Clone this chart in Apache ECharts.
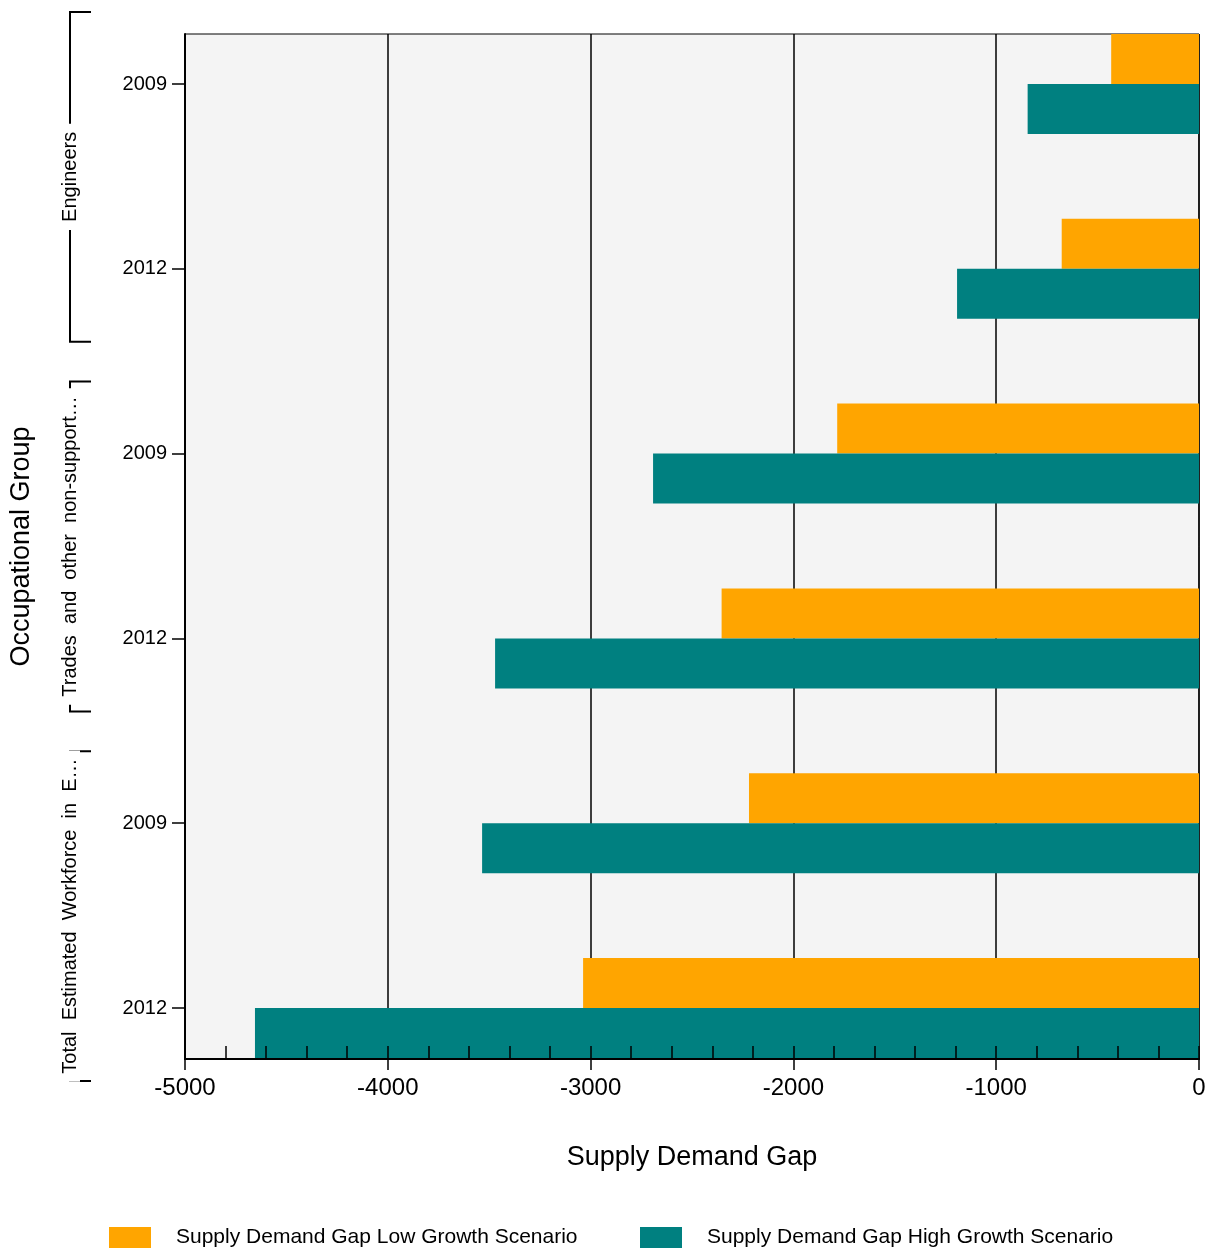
<!DOCTYPE html>
<html>
<head>
<meta charset="utf-8">
<script src="https://cdn.jsdelivr.net/npm/echarts@6/dist/echarts.min.js"></script>
<style>
html,body{margin:0;padding:0;background:#fff;}
#chart{width:1211px;height:1250px;}
</style>
</head>
<body>
<div id="chart"></div>
<script>
// ---- data ----
const groups = ["Engineers", "Trades  and  other  non-support\u2026", "Total  Estimated  Workforce  in  E\u2026"];
const years = ["2009", "2012"];
const lowGrowth = [-433, -677, -1784, -2354, -2219, -3037];
const highGrowth = [-845, -1193, -2692, -3471, -3535, -4655];
const seriesNames = ["Supply Demand Gap Low Growth Scenario", "Supply Demand Gap High Growth Scenario"];
const xMin = -5000, xMax = 0, xInterval = 1000, xMinorInterval = 200;

const categories = [];
groups.forEach((g, gi) => years.forEach(y => categories.push(gi + "|" + y)));

const FONT = "'Liberation Sans', Arial, Helvetica, sans-serif";
const chart = echarts.init(document.getElementById('chart'), null, {renderer: 'canvas'});

const bandTop = -8.4, bandHeight = 1108.8;

const option = {
  animation: false,
  backgroundColor: '#ffffff',
  textStyle: {fontFamily: FONT, color: '#000'},
  grid: [
    {left: 185, top: 34, width: 1014, height: 1025, show: true, backgroundColor: '#f4f4f4',
     borderColor: '#000', borderWidth: 1, containLabel: false, outerBoundsMode: 'none', z: 0},
    {left: 185, top: bandTop, width: 1014, height: bandHeight, show: false, containLabel: false, outerBoundsMode: 'none'}
  ],
  xAxis: [
    {type: 'value', gridIndex: 0, min: xMin, max: xMax, interval: xInterval, position: 'bottom', z: 1,
     axisLine: {show: true, onZero: false, lineStyle: {color: '#000', width: 2}},
     axisTick: {show: true, inside: false, length: 11, lineStyle: {color: '#000', width: 1.5}},
     axisLabel: {show: true, fontSize: 24, color: '#000', fontFamily: FONT, margin: 17,
       formatter: v => String(v)},
     splitLine: {show: true, lineStyle: {color: '#000', width: 1.5}},
     name: 'Supply Demand Gap', nameLocation: 'middle', nameGap: 85,
     nameTextStyle: {fontSize: 27, color: '#000', fontFamily: FONT}},
    {type: 'value', gridIndex: 0, min: xMin, max: xMax, interval: xMinorInterval, position: 'bottom', z: 20,
     axisLine: {show: true, onZero: false, lineStyle: {color: '#000', width: 2}},
     axisTick: {show: true, inside: true, length: 13, lineStyle: {color: '#000', width: 1.5}},
     axisLabel: {show: false}, splitLine: {show: false}},
    {type: 'value', gridIndex: 1, min: xMin, max: xMax, show: false}
  ],
  yAxis: [
    {type: 'value', gridIndex: 0, min: 0, max: 1, position: 'left', z: 20,
     axisLine: {show: true, onZero: false, lineStyle: {color: '#000', width: 2}},
     axisTick: {show: false}, axisLabel: {show: false}, splitLine: {show: false},
     name: 'Occupational Group', nameLocation: 'middle', nameGap: 150,
     nameTextStyle: {fontSize: 27, color: '#000', fontFamily: FONT}},
    {type: 'category', gridIndex: 1, data: categories, inverse: true, position: 'left', z: 20,
     axisLine: {show: true, onZero: false, lineStyle: {color: 'rgba(0,0,0,0)', width: 0}},
     axisTick: {show: true, alignWithLabel: true, interval: 0, length: 13, lineStyle: {color: '#000', width: 1.5}},
     axisLabel: {show: true, interval: 0, fontSize: 20, color: '#000', fontFamily: FONT, margin: 18,
       formatter: v => v.split('|')[1]},
     splitLine: {show: false}}
  ],
  legend: [
    {data: [seriesNames[0]], left: 109, top: 1227, padding: 0, itemWidth: 42, itemHeight: 21, icon: 'rect',
     textStyle: {fontSize: 21, color: '#000', fontFamily: FONT, padding: [0, 0, 0, 20]}, selectedMode: false},
    {data: [seriesNames[1]], left: 640, top: 1227, padding: 0, itemWidth: 42, itemHeight: 21, icon: 'rect',
     textStyle: {fontSize: 21, color: '#000', fontFamily: FONT, padding: [0, 0, 0, 20]}, selectedMode: false}
  ],
  series: [
    {name: seriesNames[0], type: 'bar', xAxisIndex: 2, yAxisIndex: 1, data: lowGrowth, z: 10,
     barWidth: 50, barGap: '0%', itemStyle: {color: '#FFA500'}},
    {name: seriesNames[1], type: 'bar', xAxisIndex: 2, yAxisIndex: 1, data: highGrowth, z: 10,
     barWidth: 50, barGap: '0%', itemStyle: {color: '#008080'}}
  ]
};
chart.setOption(option);

// group brackets and labels, placed from the category axis scale
const graphics = [];
const bx = 70, capX = 91;
groups.forEach((g, gi) => {
  const first = chart.convertToPixel({yAxisIndex: 1}, categories[gi * years.length]);
  const last = chart.convertToPixel({yAxisIndex: 1}, categories[gi * years.length + years.length - 1]);
  const band = (last - first) / Math.max(1, years.length - 1);
  const top = first - band * 0.39;
  const bottom = last + band * 0.395;
  graphics.push({type: 'polyline', silent: true, z: 30,
    shape: {points: [[capX, top], [bx, top], [bx, bottom], [capX, bottom]]},
    style: {stroke: '#000', lineWidth: 2, fill: null}});
  graphics.push({type: 'text', silent: true, z: 31, x: bx, y: (top + bottom) / 2, rotation: Math.PI / 2,
    style: {text: g, font: '20px ' + FONT, fill: '#000', align: 'center', verticalAlign: 'middle',
      backgroundColor: '#fff', padding: [0, 8]}});
});
chart.setOption({graphic: graphics});
</script>
</body>
</html>
